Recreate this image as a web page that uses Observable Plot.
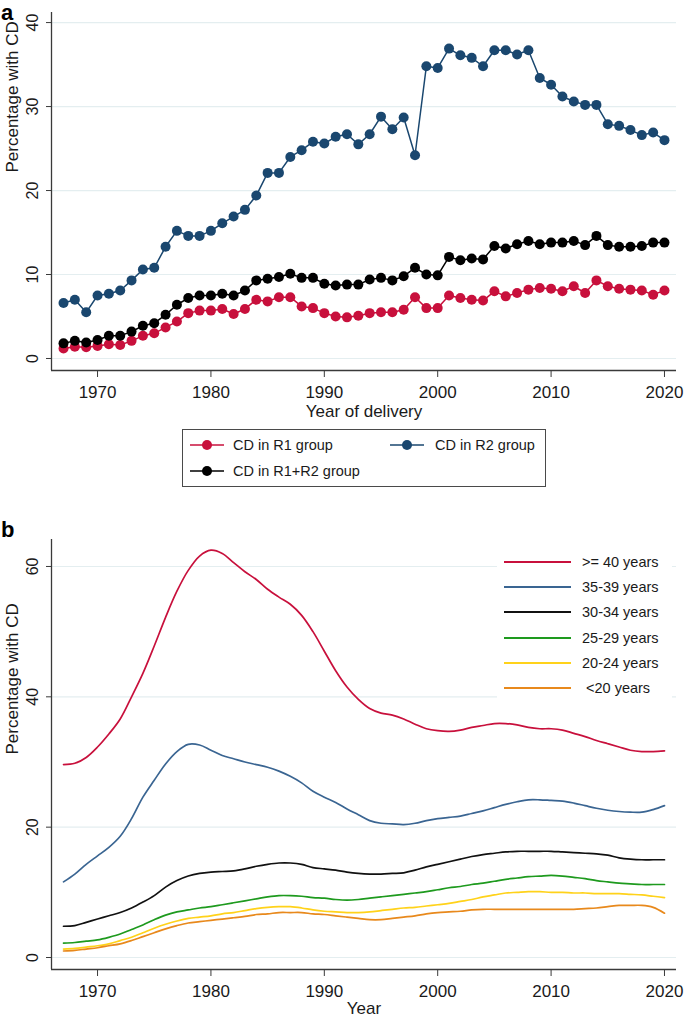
<!DOCTYPE html>
<html>
<head>
<meta charset="utf-8">
<script src="https://cdn.jsdelivr.net/npm/d3@7"></script>
<script src="https://cdn.jsdelivr.net/npm/@observablehq/plot@0.6"></script>
<style>
  html, body { margin: 0; padding: 0; background: #fff; }
  body { font-family: "Liberation Sans", Arial, Helvetica, sans-serif; color: #1a1a1a; }
  #wrap { position: relative; width: 685px; height: 1016px; overflow: hidden; background: #fff; }
  .tag { position: absolute; left: 1px; font-weight: bold; font-size: 22px; line-height: normal; color: #000; }
  .lgtxt { position: absolute; font-size: 14.5px; line-height: 20px; height: 20px; white-space: pre; color: #1a1a1a; }
</style>
</head>
<body>
<div id="wrap"></div>
<script>
// ---------------- DATA ----------------
const years = [1967,1968,1969,1970,1971,1972,1973,1974,1975,1976,
               1977,1978,1979,1980,1981,1982,1983,1984,1985,1986,
               1987,1988,1989,1990,1991,1992,1993,1994,1995,1996,
               1997,1998,1999,2000,2001,2002,2003,2004,2005,2006,
               2007,2008,2009,2010,2011,2012,2013,2014,2015,2016,
               2017,2018,2019,2020];

// Panel a: percentage with CD by group
const cdR1 = [1.2,1.4,1.35,1.5,1.7,1.6,2.1,2.7,3.0,3.7,
              4.4,5.4,5.7,5.7,5.9,5.3,5.9,7.0,6.8,7.3,
              7.3,6.2,6.0,5.4,5.0,4.9,5.1,5.4,5.5,5.5,
              5.8,7.3,6.0,6.0,7.5,7.2,7.0,6.9,8.0,7.4,
              7.8,8.2,8.4,8.3,8.0,8.6,7.8,9.3,8.6,8.3,
              8.2,8.1,7.6,8.1];
const cdR2 = [6.6,7.0,5.5,7.5,7.7,8.1,9.3,10.6,10.8,13.3,
              15.2,14.6,14.6,15.2,16.1,16.9,17.7,19.4,22.1,22.1,
              24.0,24.8,25.8,25.6,26.4,26.7,25.5,26.7,28.8,27.3,
              28.7,24.2,34.8,34.6,36.9,36.1,35.8,34.8,36.7,36.7,
              36.2,36.7,33.4,32.6,31.2,30.6,30.2,30.2,27.9,27.7,
              27.2,26.6,26.9,26.0];
const cdR1R2 = [1.8,2.1,1.9,2.2,2.7,2.7,3.2,3.9,4.2,5.2,
                6.4,7.2,7.5,7.5,7.7,7.5,8.1,9.3,9.5,9.7,
                10.1,9.6,9.6,8.9,8.7,8.8,8.8,9.4,9.6,9.3,
                9.8,10.8,10.0,9.9,12.1,11.7,11.9,11.8,13.4,13.1,
                13.6,14.0,13.6,13.8,13.8,14.0,13.5,14.6,13.5,13.3,
                13.3,13.4,13.8,13.8];
const labelsA = ["CD in R1 group", "CD in R2 group", "CD in R1+R2 group"];
const colorsA = ["#c8103c", "#1a476f", "#000000"];

// Panel b: percentage with CD by maternal age
const age40 = [29.6,29.8,30.7,32.3,34.3,36.6,40.0,43.6,47.8,52.2,
               56.2,59.4,61.6,62.5,62.0,60.6,59.2,58.0,56.5,55.3,
               54.2,52.5,50.0,47.0,44.0,41.5,39.6,38.2,37.5,37.2,
               36.6,35.8,35.1,34.8,34.7,34.9,35.3,35.6,35.9,35.9,
               35.7,35.3,35.1,35.1,34.9,34.4,33.9,33.3,32.8,32.3,
               31.8,31.6,31.6,31.7];
const age35 = [11.6,12.8,14.3,15.6,16.9,18.6,21.3,24.6,27.2,29.7,
               31.6,32.7,32.6,31.8,31.0,30.5,30.0,29.6,29.2,28.6,
               27.8,26.8,25.5,24.6,23.8,22.8,21.9,21.0,20.6,20.5,
               20.4,20.6,21.0,21.3,21.5,21.7,22.1,22.5,23.0,23.5,
               23.9,24.2,24.2,24.1,24.0,23.7,23.3,22.9,22.6,22.4,
               22.3,22.3,22.7,23.3];
const age30 = [4.8,4.9,5.4,5.9,6.4,6.9,7.6,8.5,9.5,10.8,
               11.8,12.5,12.9,13.1,13.2,13.3,13.6,14.0,14.3,14.5,
               14.5,14.3,13.8,13.6,13.4,13.1,12.9,12.8,12.8,12.9,
               13.0,13.4,13.9,14.3,14.7,15.1,15.5,15.8,16.0,16.2,
               16.3,16.3,16.3,16.3,16.2,16.1,16.0,15.9,15.7,15.3,
               15.1,15.0,15.0,15.0];
const age25 = [2.2,2.3,2.5,2.7,3.1,3.6,4.3,5.0,5.8,6.5,
               7.0,7.3,7.6,7.8,8.1,8.4,8.7,9.0,9.3,9.5,
               9.5,9.4,9.2,9.1,8.9,8.8,8.9,9.1,9.3,9.5,
               9.7,9.9,10.1,10.4,10.7,10.9,11.2,11.4,11.7,12.0,
               12.2,12.4,12.5,12.6,12.5,12.3,12.1,11.8,11.6,11.4,
               11.3,11.2,11.2,11.2];
const age20 = [1.3,1.4,1.6,1.8,2.1,2.6,3.1,3.8,4.5,5.1,
               5.6,6.0,6.2,6.4,6.7,6.9,7.2,7.5,7.7,7.8,
               7.8,7.6,7.3,7.1,7.0,6.9,6.9,7.0,7.2,7.4,
               7.6,7.7,7.9,8.1,8.3,8.6,8.9,9.3,9.6,9.9,
               10.0,10.1,10.1,10.0,10.0,9.9,9.9,9.8,9.8,9.8,
               9.7,9.6,9.4,9.2];
const ageLt20 = [1.0,1.1,1.3,1.5,1.8,2.1,2.6,3.2,3.8,4.4,
                 4.9,5.3,5.5,5.7,5.9,6.1,6.3,6.6,6.7,6.9,
                 6.9,6.9,6.7,6.6,6.4,6.2,6.0,5.8,5.8,6.0,
                 6.2,6.4,6.7,6.9,7.0,7.1,7.3,7.4,7.4,7.4,
                 7.4,7.4,7.4,7.4,7.4,7.4,7.5,7.6,7.8,8.0,
                 8.0,8.0,7.7,6.8];
const labelsB = [">= 40 years", "35-39 years", "30-34 years", "25-29 years", "20-24 years", " <20 years"];
const colorsB = ["#c8103c", "#3a6592", "#111111", "#1e9a1e", "#ffd21a", "#e8891c"];

const xTicks = [1970, 1980, 1990, 2000, 2010, 2020];
const yTicksA = [0, 10, 20, 30, 40];
const yTicksB = [0, 20, 40, 60];

// ---------------- HELPERS ----------------
const FONT = '"Liberation Sans", Arial, Helvetica, sans-serif';
const wrap = document.getElementById("wrap");
const rows = vals => years.map((yr, i) => ({year: yr, value: vals[i]}));
const xDomain = [1965.94, 2021.06];
const AXIS = "#3a3a3a";
const GRID = "#e4eef0";
const TXT = "#1a1a1a";

function place(el, left, top) {
  el.style.position = "absolute";
  el.style.left = left + "px";
  el.style.top = top + "px";
  wrap.appendChild(el);
  return el;
}

function frameMarks(yTicks, yMin, yLabelDy) {
  return [
    Plot.gridY(yTicks, {stroke: GRID, strokeOpacity: 1, strokeWidth: 1.2}),
    Plot.ruleX([xDomain[0]], {stroke: AXIS, strokeWidth: 1.3}),
    Plot.ruleY([yMin], {stroke: AXIS, strokeWidth: 1.3}),
    Plot.axisX(xTicks, {tickSize: 7, tickPadding: 8, tickFormat: d => String(d), label: null,
                        stroke: AXIS, fill: TXT, fontSize: 17}),
    Plot.axisY(yTicks, {tickSize: 5, tickPadding: 9, tickRotate: -90, label: null,
                        stroke: AXIS, fill: TXT, fontSize: 16}),
    Plot.text(["Percentage with CD"], {text: d => d, frameAnchor: "left", rotate: -90,
                        dx: -33.5, dy: yLabelDy, lineAnchor: "bottom", fontSize: 17, fill: TXT})
  ];
}

// ---------------- PANEL A ----------------
const yDomA = [-1.43, 41.2];
const drawOrderA = [1, 0, 2];
const plotA = Plot.plot({
  width: 685, height: 420,
  marginLeft: 51, marginRight: 9, marginTop: 12, marginBottom: 50,
  style: {fontFamily: FONT, fontSize: "17px", background: "transparent", color: TXT},
  x: {domain: xDomain},
  y: {domain: yDomA},
  marks: [
    ...frameMarks(yTicksA, yDomA[0], -19),
    Plot.text(["Year of delivery"], {text: d => d, frameAnchor: "bottom", dy: 46,
                                     lineAnchor: "bottom", fontSize: 17, fill: TXT}),
    ...drawOrderA.flatMap(k => {
      const data = rows([cdR1, cdR2, cdR1R2][k]);
      return [
        Plot.line(data, {x: "year", y: "value", stroke: colorsA[k], strokeWidth: 1.5}),
        Plot.dot(data, {x: "year", y: "value", r: 5, fill: colorsA[k], stroke: "none"})
      ];
    })
  ]
});
place(plotA, 0, 0);

// "a" tag
const tagA = document.createElement("div");
tagA.className = "tag"; tagA.textContent = "a";
place(tagA, 1, 0);

// Legend a
const legA = document.createElement("div");
legA.style.width = "362px"; legA.style.height = "56px";
legA.style.border = "1px solid #4a4a4a"; legA.style.background = "#fff";
place(legA, 182, 429);
const legApos = [[190, 445], [390, 445], [190, 471]];
labelsA.forEach((lab, k) => {
  const [lx, ly] = legApos[k];
  const ns = "http://www.w3.org/2000/svg";
  const s = document.createElementNS(ns, "svg");
  s.setAttribute("width", 34); s.setAttribute("height", 12);
  const ln = document.createElementNS(ns, "line");
  ln.setAttribute("x1", 0); ln.setAttribute("x2", 34); ln.setAttribute("y1", 6); ln.setAttribute("y2", 6);
  ln.setAttribute("stroke", colorsA[k]); ln.setAttribute("stroke-width", 1.6);
  const c = document.createElementNS(ns, "circle");
  c.setAttribute("cx", 17); c.setAttribute("cy", 6); c.setAttribute("r", 5);
  c.setAttribute("fill", colorsA[k]);
  s.appendChild(ln); s.appendChild(c);
  place(s, lx, ly - 6);
  const t = document.createElement("div");
  t.className = "lgtxt"; t.textContent = lab;
  place(t, lx + (k === 1 ? 45 : 43), ly - 10);
});

// ---------------- PANEL B ----------------
const yDomB = [-1.84, 64.14];
const seriesB = [age40, age35, age30, age25, age20, ageLt20];
const plotB = Plot.plot({
  width: 685, height: 516,
  marginLeft: 51, marginRight: 9, marginTop: 39, marginBottom: 47,
  style: {fontFamily: FONT, fontSize: "17px", background: "transparent", color: TXT},
  x: {domain: xDomain},
  y: {domain: yDomB},
  marks: [
    ...frameMarks(yTicksB, yDomB[0], 0),
    Plot.text(["Year"], {text: d => d, frameAnchor: "bottom", dy: 44,
                         lineAnchor: "bottom", fontSize: 17, fill: TXT}),
    ...seriesB.map((vals, k) =>
      Plot.line(rows(vals), {x: "year", y: "value", stroke: colorsB[k], strokeWidth: 1.7,
                             curve: "catmull-rom"}))
  ]
});
place(plotB, 0, 500);

// "b" tag
const tagB = document.createElement("div");
tagB.className = "tag"; tagB.textContent = "b";
place(tagB, 1, 517);

// Legend b (inside plot, white box)
const legB = document.createElement("div");
legB.style.width = "175px"; legB.style.height = "148px"; legB.style.background = "#fff";
place(legB, 497, 553);
labelsB.forEach((lab, k) => {
  const cy = 562 + k * 25.2;
  const ln = document.createElement("div");
  ln.style.width = "67px"; ln.style.height = "2px"; ln.style.background = colorsB[k];
  place(ln, 504, cy - 1);
  const t = document.createElement("div");
  t.className = "lgtxt"; t.textContent = lab;
  place(t, 582, cy - 10);
});
</script>
</body>
</html>
